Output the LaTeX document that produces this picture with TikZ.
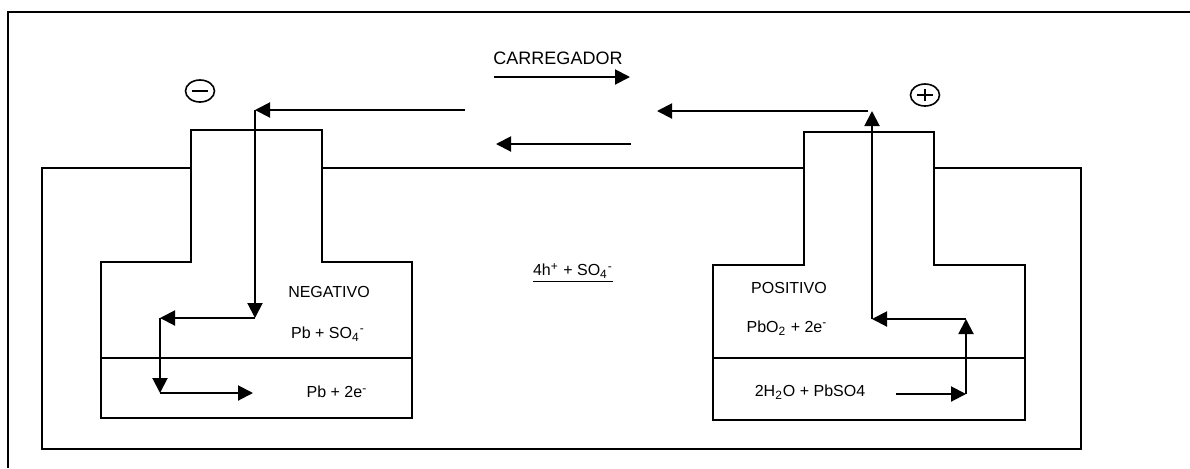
\documentclass[tikz,border=0pt]{standalone}
\usepackage{fontspec}
\setmainfont{Liberation Sans}
\usetikzlibrary{arrows.meta,shapes.geometric}

\tikzstyle{wall} = [draw, line width=1pt]
\tikzstyle{plate} = [draw, fill=white, line width=1pt]
\tikzstyle{arrow} = [draw, line width=1pt, -{Triangle[length=7.5pt,width=7.5pt]}]
\tikzstyle{txt} = [inner sep=0pt, font=\fontsize{8}{9.6}\selectfont]
\tikzstyle{pole} = [draw, ellipse, line width=0.8pt, minimum width=14.5pt, minimum height=11pt, inner sep=0pt]

\begin{document}
\begin{tikzpicture}[x=0.5pt, y=-0.5pt]
	\useasboundingbox (0,0) rectangle (1190,468);
	% frame and cell
	\draw [wall] (8,468) -- (8,12) -- (1190,12);
	\draw [wall] (42,168) rectangle (1081,449);

	% electrodes
	\draw [plate] (101,262) -- (191,262) -- (191,130) -- (322,130) -- (322,262) -- (412,262) -- (412,418) -- (101,418) -- cycle;
	\draw [wall] (101,358) -- (412,358);
	\draw [plate] (713,265) -- (804,265) -- (804,132) -- (934,132) -- (934,265) -- (1025,265) -- (1025,420) -- (713,420) -- cycle;
	\draw [wall] (713,358) -- (1025,358);

	% poles
	\node [pole] (minus) at (200,91) {};
	\draw [line width=0.9pt] ([xshift=-4pt]minus.center) -- ([xshift=4pt]minus.center);
	\node [pole] (plus) at (925,95) {};
	\draw [line width=0.9pt] ([xshift=-4pt]plus.center) -- ([xshift=4pt]plus.center);
	\draw [line width=0.9pt] ([yshift=-3.2pt]plus.center) -- ([yshift=3.2pt]plus.center);

	% texts
	\node [txt, font=\fontsize{9}{11}\selectfont] (charger) at (558,58) {CARREGADOR};
	\node [txt] (neg) at (329,292) {NEGATIVO};
	\node [txt] (negtop) at (328,334) {Pb + SO\textsubscript{4}\textsuperscript{-}};
	\node [txt] (negbot) at (337,392) {Pb + 2e\textsuperscript{-}};
	\node [txt] (acid) at (573,273) {\underline{4h\textsuperscript{+} + SO\textsubscript{4}\textsuperscript{-}}};
	\node [txt] (pos) at (789,288) {POSITIVO};
	\node [txt] (postop) at (787,328) {PbO\textsubscript{2} + 2e\textsuperscript{-}};
	\node [txt] (posbot) at (810,392) {2H\textsubscript{2}O + PbSO4};

	% current path, negative side
	\coordinate (a1) at (465,110);
	\coordinate (a2) at (255,110);
	\coordinate (a3) at (255,318);
	\coordinate (a4) at (160,318);
	\coordinate (a5) at (160,393);
	\coordinate (a6) at (253,393);
	\draw [arrow] (a1) -- (a2);
	\draw [arrow] (a2) -- (a3);
	\draw [arrow] (a3) -- (a4);
	\draw [arrow] (a4) -- (a5);
	\draw [arrow] (a5) -- (a6);

	% current path, positive side
	\coordinate (b1) at (896,394);
	\coordinate (b2) at (966,394);
	\coordinate (b3) at (966,319);
	\coordinate (b4) at (872,319);
	\coordinate (b5) at (872,111);
	\coordinate (b6) at (657,111);
	\draw [arrow] (b1) -- (b2);
	\draw [arrow] (b2) -- (b3);
	\draw [arrow] (b3) -- (b4);
	\draw [arrow] (b4) -- (b5);
	\draw [arrow] ([xshift=-2pt]b5) -- (b6);

	% charger arrows
	\coordinate (c1) at (494,77);
	\coordinate (c2) at (630,77);
	\coordinate (d1) at (631,144);
	\coordinate (d2) at (496,144);
	\draw [arrow] (c1) -- (c2);
	\draw [arrow] (d1) -- (d2);
\end{tikzpicture}
\end{document}
